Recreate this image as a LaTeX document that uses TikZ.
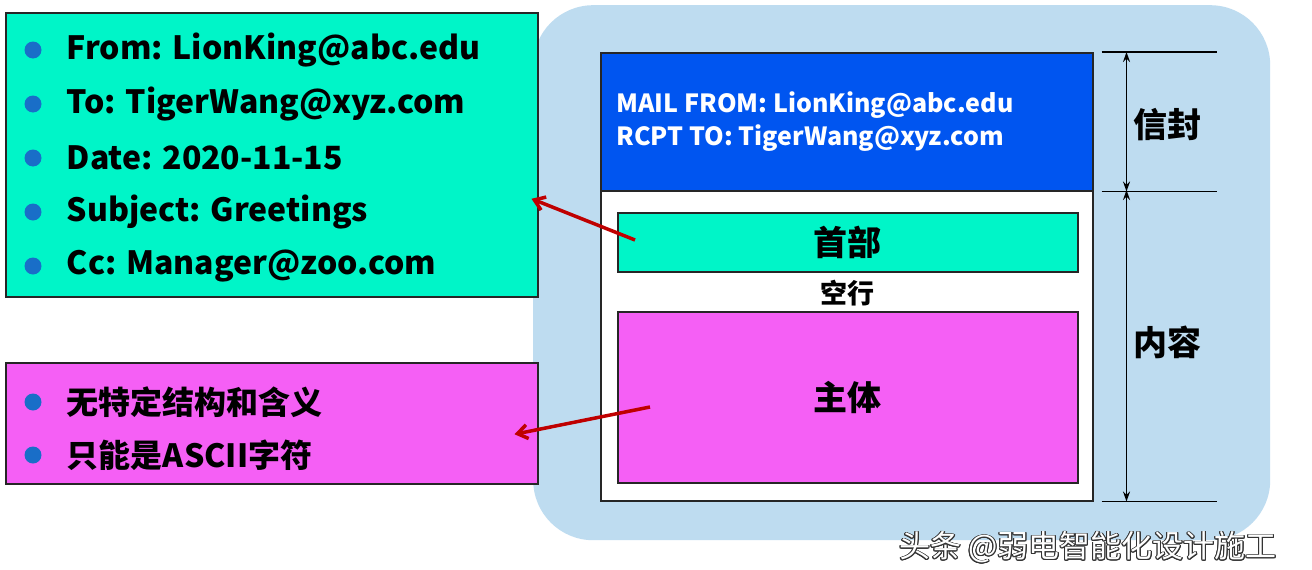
\documentclass[tikz,border=0pt]{standalone}
\usepackage{fontspec}
\setmainfont{Noto Sans CJK SC}
\usepackage{contour}
\contourlength{0.8pt}
\usetikzlibrary{arrows.meta, positioning}
\definecolor{hdrgreen}{RGB}{0,245,200}
\definecolor{bodypink}{RGB}{245,95,245}
\definecolor{envblue}{RGB}{0,85,240}
\definecolor{paleblue}{RGB}{190,220,240}
\definecolor{dotblue}{RGB}{25,110,200}

\begin{document}
\begin{tikzpicture}[x=1pt,y=-1pt,>={Stealth[length=10pt,width=7pt]},
        box/.style={draw=black!85,line width=1.5pt,inner sep=0pt,anchor=north west},
        item/.style={anchor=west,inner sep=0pt,font=\bfseries\fontsize{32}{40}\selectfont},
        dot/.style={circle,fill=dotblue,minimum size=17pt,inner sep=0pt},
        big/.style={font=\bfseries\fontsize{34}{40}\selectfont},
        dim/.style={<->,line width=1.5pt},
        tick/.style={line width=1.5pt},
        pointer/.style={-{Straight Barb[length=10pt,width=14pt]},draw=red!75!black,line width=3.5pt}]

        \useasboundingbox (0,0) rectangle (1312,570);
        \fill[white] (0,0) rectangle (1312,570);

        % message frame
        \node[fill=paleblue,rounded corners=60pt,minimum width=737pt,minimum height=535pt,
            anchor=north west,inner sep=0pt] (frame) at (533,5) {};
        \node[box,fill=envblue,minimum width=492pt,minimum height=138pt] (env) at (600,52) {};
        \node[anchor=west,text=white,align=left,font=\bfseries\fontsize{25}{33}\selectfont] (envtext) at (613,122)
            {MAIL FROM: LionKing@abc.edu\\RCPT TO: TigerWang@xyz.com};
        \node[box,fill=white,minimum width=492pt,minimum height=310pt] (content) at (600,190) {};
        \node[box,fill=hdrgreen,minimum width=460pt,minimum height=59pt,big] (hdr) at (617,212) {首部};
        \node[font=\bfseries\fontsize{27}{30}\selectfont] (blank) at (847,293) {空行};
        \node[box,fill=bodypink,minimum width=460pt,minimum height=171pt,big] (body) at (617,311) {主体};

        % dimensions
        \foreach \n/\a in {env/north, env/south, content/south}
            \draw[tick] ([xshift=8pt]\n.\a\space east) -- ([xshift=123pt]\n.\a\space east);
        \draw[dim] ([xshift=33pt]env.north east) -- ([xshift=33pt]env.south east);
        \draw[dim] ([xshift=33pt]content.north east) -- ([xshift=33pt]content.south east);
        \node[big] (envlabel) at (1167,125) {信封};
        \node[big] (contlabel) at (1167,342) {内容};

        % header fields
        \node[box,fill=hdrgreen,minimum width=532pt,minimum height=284pt] (hdrlist) at (5,12) {};
        \foreach \t [count=\i] in {From: LionKing@abc.edu, To: TigerWang@xyz.com, Date: 2020-11-15,
                Subject: Greetings, Cc: Manager@zoo.com} {
            \node[dot] (hd\i) at (33,{50+54*(\i-1)}) {};
            \node[item,right=25pt of hd\i] (ht\i) {\t};
        }

        % body notes
        \node[box,fill=bodypink,minimum width=532pt,minimum height=121pt] (bodylist) at (5,362) {};
        \foreach \t [count=\i] in {无特定结构和含义, 只能是ASCII字符} {
            \node[dot] (bd\i) at (33,{402+53*(\i-1)}) {};
            \node[item,right=25pt of bd\i] (bt\i) {\t};
        }

        \coordinate (hdrfrom) at (635,240);
        \coordinate (bodyfrom) at (650,407);
        \draw[pointer] (hdrfrom) -- ([xshift=-7pt,yshift=-44pt]hdrlist.east);
        \draw[pointer] (bodyfrom) -- ([xshift=-24pt,yshift=-11pt]bodylist.east);

        \node[font=\fontsize{31}{34}\selectfont,text=white] (mark) at (1088,548)
            {\contour{black!80}{头条 @弱电智能化设计施工}};
\end{tikzpicture}
\end{document}
